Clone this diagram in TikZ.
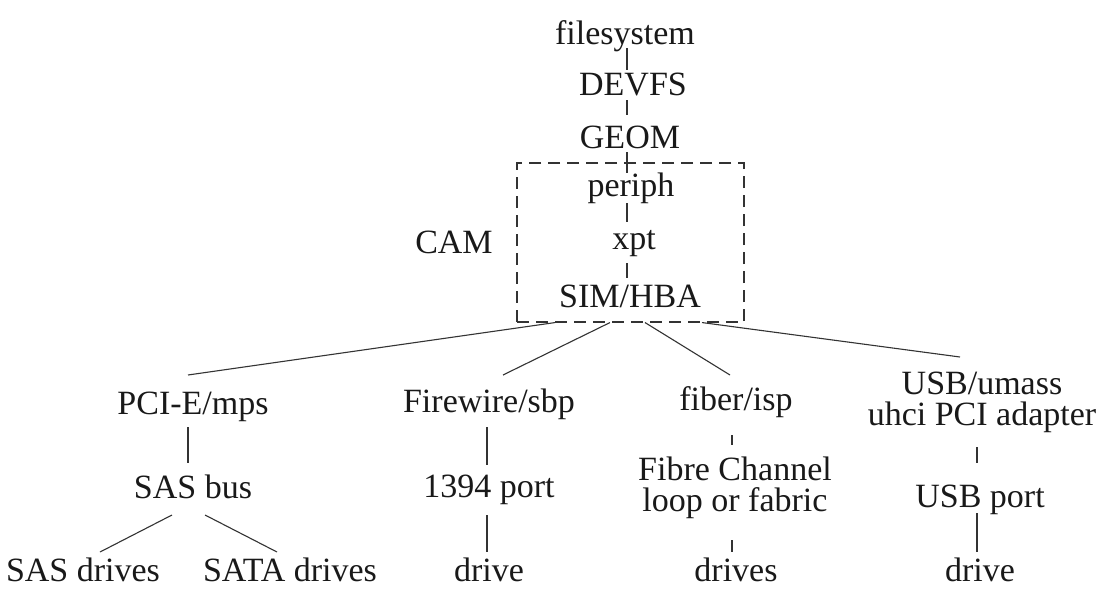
\documentclass[tikz,border=0pt]{standalone}
\usepackage{fontspec}
\setmainfont{Liberation Serif}
\usetikzlibrary{calc}
\begin{document}
\begin{tikzpicture}[x=1pt,y=-1pt,
  every node/.style={font=\fontsize{34}{31}\selectfont, inner sep=0pt, anchor=base, text=black!90},
  lbl/.style={},
  conn/.style={line width=1.1pt, draw=black!80},
  cambox/.style={draw=black!80, line width=1.1pt, dash pattern=on 12pt off 7pt, minimum width=227pt, minimum height=159pt, anchor=center}]
\useasboundingbox (0,0) rectangle (1101,590);
\fill[white] (0,0) rectangle (1101,590);
% spine
\node[lbl] (fs) at (625,44) {filesystem};
\node[lbl] (devfs) at (633,95) {DEVFS};
\node[lbl] (geom) at (630,148) {GEOM};
\node[lbl] (periph) at (631,196) {periph};
\node[lbl] (xpt) at (634,249) {xpt};
\node[lbl] (sim) at (630,307) {SIM/HBA};
\node[lbl] (camlbl) at (454,253) {CAM};
\node[cambox] (cam) at (630.5,242.5) {};
% level 2
\node[lbl] (pci) at (193,414) {PCI-E/mps};
\node[lbl] (fw) at (489,412) {Firewire/sbp};
\node[lbl] (fib) at (736,410) {fiber/isp};
\node[lbl, align=center] (usb) at (982,425) {USB/umass\\uhci PCI adapter};
% level 3
\node[lbl] (sasbus) at (193,498) {SAS bus};
\node[lbl] (p1394) at (489,497) {1394 port};
\node[lbl, align=center] (fc) at (735,511) {Fibre Channel\\loop or fabric};
\node[lbl] (usbport) at (980,507) {USB port};
% level 4
\node[lbl] (sasdrv) at (83,581) {SAS drives};
\node[lbl] (satadrv) at (290,581) {SATA drives};
\node[lbl] (drv1) at (489,581) {drive};
\node[lbl] (drvs) at (736,581) {drives};
\node[lbl] (drv2) at (980,581) {drive};
% spine connectors
\draw[conn] ($(fs.base)+(2,4)$) -- ($(devfs.base)+(-6,-25)$);
\draw[conn] ($(devfs.base)+(-6,5)$) -- ($(geom.base)+(-3,-33)$);
\draw[conn] ($(geom.base)+(-3,4)$) -- ($(periph.base)+(-4,-23)$);
\draw[conn] ($(periph.base)+(-4,7)$) -- ($(xpt.base)+(-7,-27)$);
\draw[conn] ($(xpt.base)+(-7,14)$) -- ($(sim.base)+(-3,-29)$);
% fan
\draw[conn] ($(cam.south)+(-75.5,0)$) -- ($(pci.base)+(-5,-39)$);
\draw[conn] ($(cam.south)+(-20.5,0)$) -- ($(fw.base)+(14,-37)$);
\draw[conn] ($(cam.south)+(14.5,0)$) -- ($(fib.base)+(-6,-35)$);
\draw[conn] ($(cam.south)+(71.5,0)$) -- ($(usb.base)+(-22,-68)$);
% columns
\draw[conn] ($(pci.base)+(-5,13)$) -- ($(sasbus.base)+(-5,-35)$);
\draw[conn] ($(sasbus.base)+(-21,17)$) -- ($(sasdrv.base)+(17,-29)$);
\draw[conn] ($(sasbus.base)+(12,17)$) -- ($(satadrv.base)+(-13,-29)$);
\draw[conn] ($(fw.base)+(-2,15)$) -- ($(p1394.base)+(-2,-32)$);
\draw[conn] ($(p1394.base)+(-2,18)$) -- ($(drv1.base)+(-2,-29)$);
\draw[conn] ($(fib.base)+(-4,25)$) -- ($(fc.base)+(-3,-66)$);
\draw[conn] ($(fc.base)+(-3,29)$) -- ($(drvs.base)+(-4,-29)$);
\draw[conn] ($(usb.base)+(-5,22)$) -- ($(usbport.base)+(-3,-44)$);
\draw[conn] ($(usbport.base)+(-3,6)$) -- ($(drv2.base)+(-3,-29)$);
\end{tikzpicture}
\end{document}
